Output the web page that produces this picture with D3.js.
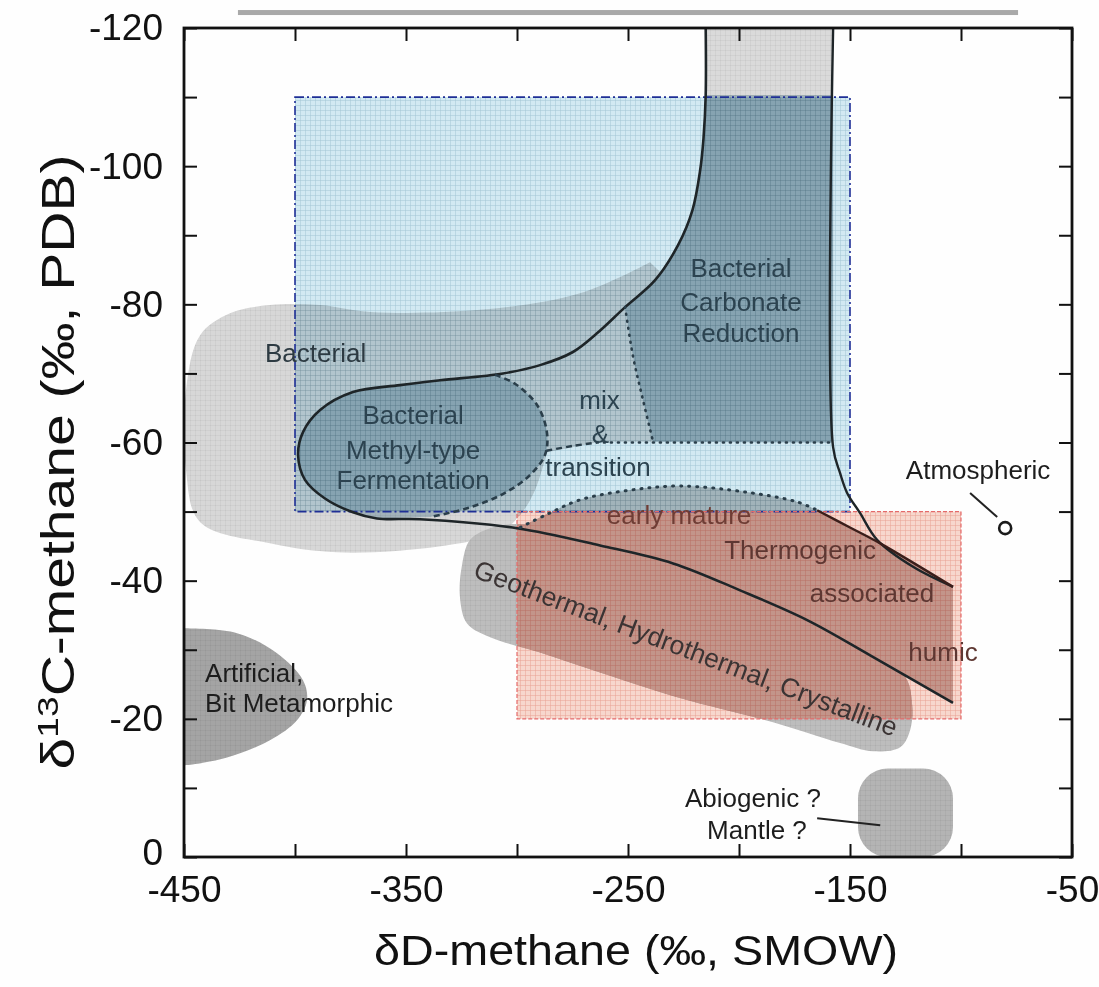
<!DOCTYPE html>
<html><head><meta charset="utf-8">
<script src="https://cdn.jsdelivr.net/npm/d3@7/dist/d3.min.js"></script>
<style>
body{margin:0;background:#fff;}
text{font-family:"Liberation Sans",Arial,Helvetica,sans-serif;}
</style></head><body>
<svg id="c" width="1099" height="987"></svg>
<script>
// ---------- data (δD ‰ SMOW, δ13C ‰ PDB) ----------
const xTicks = [-450,-400,-350,-300,-250,-200,-150,-100,-50];
const xTickLabels = [-450,-350,-250,-150,-50];
const yTicks = [-120,-110,-100,-90,-80,-70,-60,-50,-40,-30,-20,-10,0];
const yTickLabels = [-120,-100,-80,-60,-40,-20,0];

const blueBox = [-400,-150,-110,-50];
const redBox = [-300,-100,-50,-20];
const columnBox = [-215,-157.6,-120,-110.3];
const abiogenicBox = [-146.4,-103.6,-12.8,0];
const atmosphericPoint = [-80.1,-47.6];
const atmosphericLeader = [[-95.9,-52.7],[-83.7,-49.2]];
const abiogenicLeader = [[-164.8,-5.6],[-136.4,-4.6]];
const topBar = [-425.7,-74.3,-122.6];

const mainCurve = [[-215,-120],[-215,-110.3],[-216,-104],[-217.5,-99.4],[-221,-93.6],[-227.4,-88.6],[-237.8,-83.5],[-251.3,-79.6],[-264,-75.8],[-274.8,-73.1],[-289.6,-71.2],[-306.3,-70],[-334.7,-69],[-352.7,-68.3],[-373.9,-67.3],[-388.7,-64.7],[-396.4,-61.5],[-398.6,-58.2],[-395.5,-54.6],[-386.5,-51.9],[-373.9,-49.9],[-363.1,-49],[-343.7,-48.9],[-300,-47.6],[-262.6,-45.1],[-229.7,-42.5],[-199.5,-38.6],[-169.3,-34.3],[-140.9,-29.2],[-103.6,-22.3]];
const rightCurve = [[-157.6,-120],[-157.6,-59.3],[-154.5,-55.6],[-151.3,-52.7],[-145.5,-49.8],[-137.8,-45.9],[-121.6,-42.0],[-103.6,-39.1]];
const associatedLine = [[-164.8,-50.2],[-150,-47.7],[-136.4,-45.4],[-103.6,-39.1]];
const domeCurve = [[-298.6,-47.7],[-286.5,-49.6],[-271.6,-51.7],[-249.1,-53.1],[-226.6,-53.7],[-196.4,-52.8],[-173.8,-51.4],[-164.8,-50.2]];
const ellipseDashed = [[-309.9,-69.8],[-300.9,-68.5],[-290.9,-65.4],[-286.5,-61.4],[-287.4,-58.2],[-294.1,-55.3],[-305.4,-52.7],[-321.2,-50.6],[-339.2,-49.2]];
const carbonateDashed = [[-251.3,-79.6],[-247.7,-72.4],[-243.2,-66.1],[-238.7,-60.1]];
const transitionDashed = [[-286.8,-58.8],[-275,-59.5],[-264,-60]];
const horizontalDotted = [[-264,-60],[-157.6,-60]];
const bacterialOuter = [[-240.1,-86.1],[-271.6,-81.6],[-316.7,-79.2],[-366.2,-78.9],[-388.7,-79.9],[-411.3,-79.9],[-429.3,-78.7],[-442.8,-75.5],[-449.1,-67.6],[-449.1,-56],[-442.8,-48.5],[-411.3,-45.4],[-381.1,-44.1],[-336,-44.9],[-307.6,-47],[-298.6,-49.5],[-291.9,-53.1],[-286.5,-58.6]];
const bacterialInner = [[-262.6,-60.1],[-237.8,-60.1],[-222,-80.6]];
const geothermalBlob = [[-321.2,-45.9],[-324.8,-42.2],[-325.7,-37.6],[-322.5,-33.8],[-312.1,-31.8],[-289.6,-29.6],[-262.6,-26.7],[-226.6,-23],[-184.7,-19.5],[-154.5,-16.5],[-139.6,-15.3],[-127.4,-15.9],[-122.9,-18.4],[-122,-22],[-126,-26.5],[-169.3,-35],[-217.5,-41.5],[-262.6,-46],[-298.6,-48.2],[-312.1,-47.6]];
const artificialBlob = [[-450,-33.1],[-449.5,-33.1],[-426.1,-32.4],[-408.1,-29.5],[-396.4,-25.6],[-394.6,-22.7],[-399.1,-19.8],[-411.3,-16.9],[-430.6,-14.4],[-448.6,-13.3],[-450,-13.3]];

const blueLabels = [
  {t:"Bacterial", x:-413.5, y:-71.6, a:"start"},
  {t:"Bacterial", x:-346.8, y:-62.7, a:"middle"},
  {t:"Methyl-type", x:-346.8, y:-57.6, a:"middle"},
  {t:"Fermentation", x:-346.8, y:-53.2, a:"middle"},
  {t:"Bacterial", x:-199.1, y:-83.9, a:"middle"},
  {t:"Carbonate", x:-199.1, y:-79.0, a:"middle"},
  {t:"Reduction", x:-199.1, y:-74.5, a:"middle"},
  {t:"mix", x:-262.8, y:-64.8, a:"middle"},
  {t:"&", x:-262.4, y:-59.9, a:"middle"},
  {t:"transition", x:-263.5, y:-55.1, a:"middle"}
];
const redLabels = [
  {t:"early mature", x:-227, y:-48.2, a:"middle"},
  {t:"Thermogenic", x:-172.5, y:-43.1, a:"middle"},
  {t:"associated", x:-140.1, y:-36.9, a:"middle"},
  {t:"humic", x:-108.1, y:-28.3, a:"middle"}
];
const geoLabel = {t:"Geothermal, Hydrothermal, Crystalline", x:-223.9, y:-30.2, r:20.8};
const plainLabels = [
  {t:"Artificial,", x:-440.5, y:-25.4, a:"start"},
  {t:"Bit Metamorphic", x:-440.5, y:-21.0, a:"start"},
  {t:"Abiogenic ?", x:-193.7, y:-7.2, a:"middle"},
  {t:"Mantle ?", x:-191.9, y:-2.6, a:"middle"},
  {t:"Atmospheric", x:-92.3, y:-54.7, a:"middle"}
];

(function(){
// ---------- setup ----------
const svg = d3.select("#c");
const x = d3.scaleLinear().domain([-450,-50]).range([184,1072]);
const y = d3.scaleLinear().domain([-120,0]).range([28,857]);
const smooth = d3.line().x(d=>x(d[0])).y(d=>y(d[1])).curve(d3.curveCatmullRom.alpha(0.5));
const lin = d3.line().x(d=>x(d[0])).y(d=>y(d[1]));
const closedSmooth = d3.line().x(d=>x(d[0])).y(d=>y(d[1])).curve(d3.curveCatmullRomClosed.alpha(0.5));
const cont = p => p.replace(/^M/,"L");

svg.append("rect").attr("width",1099).attr("height",987).attr("fill","#fefefe");

const defs = svg.append("defs");
function gridPattern(id, bg, line, size){
  const p = defs.append("pattern").attr("id",id).attr("width",size).attr("height",size).attr("patternUnits","userSpaceOnUse");
  if(bg) p.append("rect").attr("width",size).attr("height",size).attr("fill",bg);
  p.append("path").attr("d",`M${size} 0L0 0 0 ${size}`).attr("fill","none").attr("stroke",line).attr("stroke-width",1);
}
gridPattern("gridGray", null, "rgba(0,0,0,0.08)", 5);
gridPattern("bluePat", "#d3eaf3", "#a3c6d5", 5);
gridPattern("redPat", "#f8d8ce", "#eaa394", 5);
defs.append("clipPath").attr("id","redClip").append("rect")
  .attr("x",x(redBox[0])).attr("y",y(redBox[2])).attr("width",x(redBox[1])-x(redBox[0])).attr("height",y(redBox[3])-y(redBox[2]));
defs.append("clipPath").attr("id","plotClip").append("rect")
  .attr("x",x(-450)).attr("y",y(-120)).attr("width",x(-50)-x(-450)).attr("height",y(0)-y(-120));

// ---------- region paths ----------
const bacterialPath = smooth(bacterialOuter) + cont(lin(bacterialInner)) + "Z";
const columnPath = lin([[columnBox[0],columnBox[2]],[columnBox[1],columnBox[2]],[columnBox[1],columnBox[3]],[columnBox[0],columnBox[3]]]) + "Z";
const co2Path = smooth(mainCurve.slice(1,8)) + cont(lin(carbonateDashed.slice(1).concat([[-157.6,-60],[-157.6,-110.3]]))) + "Z";
const methylPath = smooth(mainCurve.slice(11,22)) + cont(smooth(ellipseDashed.slice().reverse())) + "Z";
const domePath = smooth(domeCurve) + "Z";
const thermoPath = smooth(domeCurve) + cont(smooth(associatedLine)) + cont(lin([[-103.6,-39.1],[-103.6,-22.3]])) + cont(smooth(mainCurve.slice(23).reverse())) + "Z";
const geoPath = closedSmooth(geothermalBlob);
const artPath = smooth(artificialBlob) + "Z";

const regions = svg.append("g").attr("clip-path","url(#plotClip)");
function region(d, fill){
  regions.append("path").attr("d",d).attr("fill",fill);
  regions.append("path").attr("d",d).attr("fill","url(#gridGray)");
}
region(bacterialPath, "#d7d7d7");
region(columnPath, "#dadada");
region(domePath, "#cbd1d4");
region(thermoPath, "#c3c3c3");
region(geoPath, "#bdbdbd");
region(artPath, "#a4a4a4");
regions.append("rect").attr("x",x(abiogenicBox[0])).attr("y",y(abiogenicBox[2]))
  .attr("width",x(abiogenicBox[1])-x(abiogenicBox[0])).attr("height",y(abiogenicBox[3])-y(abiogenicBox[2]))
  .attr("rx",30).attr("fill","#b4b4b4");
regions.append("rect").attr("x",x(abiogenicBox[0])).attr("y",y(abiogenicBox[2]))
  .attr("width",x(abiogenicBox[1])-x(abiogenicBox[0])).attr("height",y(abiogenicBox[3])-y(abiogenicBox[2]))
  .attr("rx",30).attr("fill","url(#gridGray)");
region(co2Path, "#a2b2ba");
region(methylPath, "#a2b2ba");

// tinted underlay inside the red box
const redUnder = svg.append("g").attr("clip-path","url(#redClip)");
redUnder.append("path").attr("d",thermoPath).attr("fill","#c9b0ab");
redUnder.append("path").attr("d",geoPath).attr("fill","#c9b0ab");

// labels that sit beneath the red overlay
const lbl = svg.append("g").attr("font-size",26);
lbl.selectAll("text.r").data(redLabels).join("text").attr("class","r")
  .attr("x",d=>x(d.x)).attr("y",d=>y(d.y)).attr("text-anchor",d=>d.a)
  .attr("fill",d=>d.t==="early mature"?"#6f3d35":"#5e3732").text(d=>d.t);
lbl.append("text").attr("transform",`translate(${x(geoLabel.x)},${y(geoLabel.y)}) rotate(${geoLabel.r})`)
  .attr("text-anchor","middle").attr("dominant-baseline","central").attr("font-size",26.5)
  .attr("fill","#3b3434").text(geoLabel.t);

// ---------- overlays ----------
svg.append("rect").attr("x",x(blueBox[0])).attr("y",y(blueBox[2]))
  .attr("width",x(blueBox[1])-x(blueBox[0])).attr("height",y(blueBox[3])-y(blueBox[2]))
  .attr("fill","url(#bluePat)").style("mix-blend-mode","multiply");
svg.append("rect").attr("x",x(redBox[0])).attr("y",y(redBox[2]))
  .attr("width",x(redBox[1])-x(redBox[0])).attr("height",y(redBox[3])-y(redBox[2]))
  .attr("fill","url(#redPat)").style("mix-blend-mode","multiply");
svg.append("rect").attr("x",x(blueBox[0])).attr("y",y(blueBox[2]))
  .attr("width",x(blueBox[1])-x(blueBox[0])).attr("height",y(blueBox[3])-y(blueBox[2]))
  .attr("fill","none").attr("stroke","#1f2f96").attr("stroke-width",1.6).attr("stroke-dasharray","9,3,2,3");
svg.append("rect").attr("x",x(redBox[0])).attr("y",y(redBox[2]))
  .attr("width",x(redBox[1])-x(redBox[0])).attr("height",y(redBox[3])-y(redBox[2]))
  .attr("fill","none").attr("stroke","#e46a6a").attr("stroke-width",1.2).attr("stroke-dasharray","4,2");

// ---------- boundary lines ----------
const lines = svg.append("g").attr("fill","none").attr("clip-path","url(#plotClip)");
lines.append("path").attr("d",smooth(mainCurve)).attr("stroke","#1e2528").attr("stroke-width",2.6);
lines.append("path").attr("d",smooth(rightCurve)).attr("stroke","#1e2528").attr("stroke-width",2.4);
lines.append("path").attr("d",smooth(associatedLine)).attr("stroke","#3a1e1a").attr("stroke-width",2.4);
lines.append("path").attr("d",smooth(ellipseDashed)).attr("stroke","#2a3e4a").attr("stroke-width",2.6).attr("stroke-dasharray","6,4");
lines.append("path").attr("d",smooth(carbonateDashed)).attr("stroke","#2a3e4a").attr("stroke-width",2.6).attr("stroke-dasharray","1,6").attr("stroke-linecap","round");
lines.append("path").attr("d",smooth(transitionDashed)).attr("stroke","#2a3e4a").attr("stroke-width",2.4).attr("stroke-dasharray","6,4");
lines.append("path").attr("d",lin(horizontalDotted)).attr("stroke","#2a3e4a").attr("stroke-width",2.6).attr("stroke-dasharray","1,6").attr("stroke-linecap","round");
lines.append("path").attr("d",smooth(domeCurve)).attr("stroke","#2a3e4a").attr("stroke-width",3).attr("stroke-dasharray","1,7").attr("stroke-linecap","round");

// ---------- labels ----------
lbl.raise();
const labelsTop = svg.append("g").attr("font-size",26);
labelsTop.selectAll("text.b").data(blueLabels).join("text").attr("class","b")
  .attr("x",d=>x(d.x)).attr("y",d=>y(d.y)).attr("text-anchor",d=>d.a)
  .attr("fill",(d,i)=>i===0?"#2d3a42":"#2c4350").text(d=>d.t);
labelsTop.selectAll("text.p").data(plainLabels).join("text").attr("class","p")
  .attr("x",d=>x(d.x)).attr("y",d=>y(d.y)).attr("text-anchor",d=>d.a)
  .attr("fill","#1d1d1d").text(d=>d.t);

// markers & leaders
svg.append("path").attr("d",lin(atmosphericLeader)).attr("stroke","#222").attr("stroke-width",2);
svg.append("path").attr("d",lin(abiogenicLeader)).attr("stroke","#222").attr("stroke-width",2);
svg.append("circle").attr("cx",x(atmosphericPoint[0])).attr("cy",y(atmosphericPoint[1])).attr("r",6)
  .attr("fill","#fff").attr("stroke","#1a1a1a").attr("stroke-width",2.6);

// decorative bar above the frame
svg.append("rect").attr("x",x(topBar[0])).attr("y",y(topBar[2])).attr("width",x(topBar[1])-x(topBar[0])).attr("height",5)
  .attr("fill","#a9a9a9");

// ---------- axes ----------
function styleAxis(g){
  g.select(".domain").remove();
  g.selectAll(".tick line").attr("stroke","#111").attr("stroke-width",2);
  g.selectAll(".tick text").attr("fill","#111").attr("font-size",37)
    .attr("font-family",'"Liberation Sans",Arial,sans-serif');
}
svg.append("g").attr("transform",`translate(0,${y(0)})`)
  .call(d3.axisBottom(x).tickValues(xTicks).tickSize(-13).tickPadding(19)
    .tickFormat(d=>xTickLabels.includes(d)?String(d):"")).call(styleAxis);
svg.append("g").attr("transform",`translate(0,${y(-120)})`)
  .call(d3.axisTop(x).tickValues(xTicks).tickSize(-13).tickFormat("")).call(styleAxis);
const gl = svg.append("g").attr("transform",`translate(${x(-450)},0)`)
  .call(d3.axisLeft(y).tickValues(yTicks).tickSize(-13).tickPadding(21)
    .tickFormat(d=>yTickLabels.includes(d)?String(d):"")).call(styleAxis);
gl.selectAll(".tick text").filter(d=>d===0).attr("dy","0.2em");
svg.append("g").attr("transform",`translate(${x(-50)},0)`)
  .call(d3.axisRight(y).tickValues(yTicks).tickSize(-13).tickFormat("")).call(styleAxis);
svg.append("rect").attr("x",x(-450)).attr("y",y(-120)).attr("width",x(-50)-x(-450)).attr("height",y(0)-y(-120))
  .attr("fill","none").attr("stroke","#111").attr("stroke-width",2.8);

// axis titles
svg.append("text").attr("x",636).attr("y",965).attr("text-anchor","middle").attr("font-size",42)
  .attr("textLength",524).attr("lengthAdjust","spacingAndGlyphs").attr("fill","#111")
  .text("δD-methane (‰, SMOW)");
const yt = svg.append("text").attr("transform","translate(74,462) rotate(-90)").attr("text-anchor","middle")
  .attr("font-size",46).attr("fill","#111").attr("textLength",615).attr("lengthAdjust","spacingAndGlyphs");
yt.append("tspan").text("δ");
yt.append("tspan").attr("font-size",30).attr("dy",-16).text("13");
yt.append("tspan").attr("dy",16).text("C-methane (‰, PDB)");
})();
</script>
</body></html>
